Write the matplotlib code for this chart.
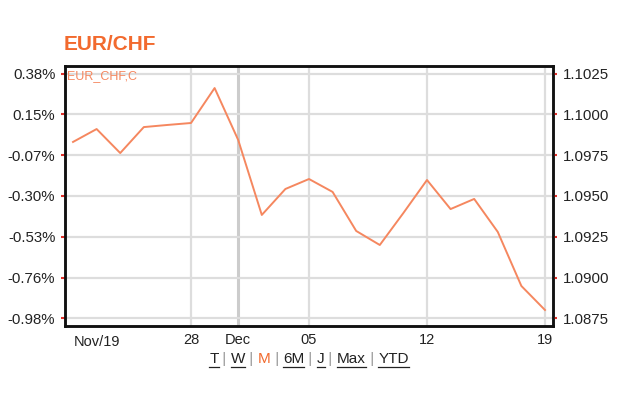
import matplotlib
matplotlib.use("Agg")
import matplotlib.pyplot as plt
from matplotlib.lines import Line2D

plt.rcParams['font.family'] = ['Liberation Sans', 'DejaVu Sans']

# trading days Nov 21 .. Dec 19 (2019)
days = ['Nov 21', 'Nov 22', 'Nov 25', 'Nov 26', 'Nov 27', 'Nov 28', 'Nov 29',
        'Dec 02', 'Dec 03', 'Dec 04', 'Dec 05', 'Dec 06', 'Dec 09', 'Dec 10',
        'Dec 11', 'Dec 12', 'Dec 13', 'Dec 16', 'Dec 17', 'Dec 18', 'Dec 19']
close = [1.09831, 1.09910, 1.09763, 1.09922, 1.09935, 1.09947, 1.10161,
         1.09843, 1.09384, 1.09543, 1.09604, 1.09525, 1.09286, 1.09200,
         1.09396, 1.09598, 1.09420, 1.09482, 1.09280, 1.08949, 1.08802]

right_ticks = [1.0875, 1.0900, 1.0925, 1.0950, 1.0975, 1.1000, 1.1025]
right_labels = ['1.0875', '1.0900', '1.0925', '1.0950', '1.0975', '1.1000', '1.1025']
left_labels = ['-0.98%', '-0.76%', '-0.53%', '-0.30%', '-0.07%', '0.15%', '0.38%']

x_tick_days = ['Nov 28', 'Dec 02', 'Dec 05', 'Dec 12', 'Dec 19']
x_tick_labels = ['28', 'Dec', '05', '12', '19']
links = ['T', 'W', 'M', '6M', 'J', 'Max', 'YTD']

orange = '#f26a2e'
line_col = '#f5875f'
txt = '#222222'

fig = plt.figure(figsize=(6.2, 4.2), dpi=100)
ax = fig.add_axes([65 / 620, 1 - 326 / 420, 488 / 620, 260 / 420])
xs = list(range(len(days)))
ax.plot(xs, close, color=line_col, lw=1.4)

ax.set_xlim(-0.34, 20.34)
ax.set_ylim(1.08704, 1.10296)

# y axes
ax.set_yticks(right_ticks)
ax.set_yticklabels(left_labels)
ax2 = ax.twinx()
ax2.set_ylim(ax.get_ylim())
ax2.set_yticks(right_ticks)
ax2.set_yticklabels(right_labels)
for a in (ax, ax2):
    a.tick_params(axis='y', length=3, width=1.5, color='#e0302a',
                  labelsize=10.8, labelcolor=txt, pad=4)

# x axis
xt = [days.index(d) for d in x_tick_days]
ax.set_xticks(xt)
ax.set_xticklabels(x_tick_labels)
ax.tick_params(axis='x', length=0, labelsize=10.5, labelcolor=txt, pad=5)
ax.text(1.0, -0.035, 'Nov/19', transform=ax.get_xaxis_transform(),
        ha='center', va='top', fontsize=10.5, color=txt)

ax.grid(True, color='#dddddd', lw=1.6)
ax.get_xgridlines()[1].set_color('#cccccc')
ax.get_xgridlines()[1].set_linewidth(2.2)
ax.set_axisbelow(True)
for a in (ax, ax2):
    for s in a.spines.values():
        s.set_linewidth(1.8)
        s.set_color('#111111')

ax.text(0.005, 0.985, 'EUR_CHF,C', transform=ax.transAxes, ha='left', va='top',
        fontsize=9, color=line_col)

fig.text(64 / 620, 1 - 44 / 420, 'EUR/CHF', ha='left', va='center',
         fontsize=15, fontweight='bold', color=orange)

# period links, underlined
renderer = fig.canvas.get_renderer()
parts = []
for i, lk in enumerate(links):
    parts.append((lk, True))
    if i < len(links) - 1:
        parts.append((' | ', False))
texts = []
for s, is_link in parts:
    col = orange if s == 'M' else (txt if is_link else '#999999')
    t = fig.text(0, 1 - 359 / 420, s, ha='left', va='center', fontsize=11, color=col)
    texts.append((t, is_link, col))
widths = [t.get_window_extent(renderer).width for t, _, _ in texts]
total = sum(widths)
xpix = 309 - total / 2
for (t, is_link, col), w in zip(texts, widths):
    t.set_x(xpix / 620)
    if is_link and t.get_text() != 'M':
        yb = (1 - 366.5 / 420)
        fig.add_artist(Line2D([xpix / 620, (xpix + w) / 620], [yb, yb],
                              transform=fig.transFigure, color=col, lw=0.9))
    xpix += w

fig.savefig('out.png', dpi=100)
